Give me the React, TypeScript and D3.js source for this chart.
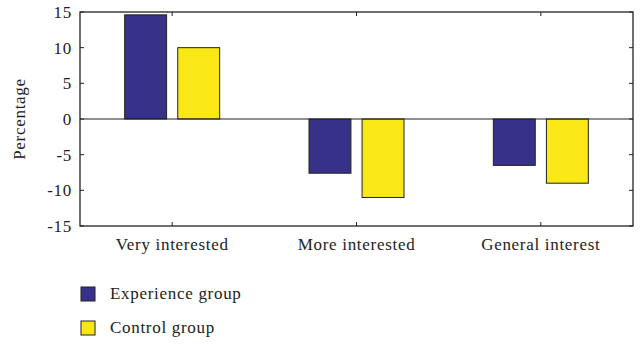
import React from "react";
import * as d3 from "d3";

const categories = ["Very interested", "More interested", "General interest"];
const seriesNames = ["Experience group", "Control group"];
const experienceValues = [14.6, -7.6, -6.5];
const controlValues = [10, -11, -9];
const yTicks = [15, 10, 5, 0, -5, -10, -15];
const colors = ["#38318a", "#f9e816"];

const W = 640;
const H = 345;
const left = 80;
const right = 633;
const top = 12;
const bottom = 226;
const font = "'Liberation Serif', 'DejaVu Serif', serif";
const fs = 17;
const ls = 0.7;

export default function App() {
  const x = d3.scaleBand<string>().domain(categories).range([left, right]).padding(0);
  const y = d3.scaleLinear().domain([-15, 15]).range([bottom, top]);
  const inner = d3
    .scaleBand<string>()
    .domain(seriesNames)
    .range([-47.5, 47.5])
    .paddingInner(0.21)
    .paddingOuter(0);
  const series = [experienceValues, controlValues];
  const tickLen = 4;

  return (
    <svg width={W} height={H} style={{ position: "absolute", left: 0, top: 0, background: "#fff" }}>
      {/* bars */}
      {series.map((vals, si) =>
        vals.map((v, ci) => {
          const cx = (x(categories[ci]) ?? 0) + x.bandwidth() / 2;
          const bx = cx + (inner(seriesNames[si]) ?? 0);
          const y0 = y(0);
          const y1 = y(v);
          return (
            <rect
              key={`${si}-${ci}`}
              x={bx}
              y={Math.min(y0, y1)}
              width={inner.bandwidth()}
              height={Math.abs(y1 - y0)}
              fill={colors[si]}
              stroke="#222"
              strokeWidth={1}
            />
          );
        })
      )}
      {/* zero line */}
      <line x1={left} x2={right} y1={y(0)} y2={y(0)} stroke="#222" strokeWidth={1.2} />
      {/* frame */}
      <rect x={left} y={top} width={right - left} height={bottom - top} fill="none" stroke="#222" strokeWidth={1.3} />
      {/* y ticks, both sides */}
      {yTicks.map((t) => (
        <g key={t}>
          <line x1={left} x2={left + tickLen} y1={y(t)} y2={y(t)} stroke="#222" />
          <line x1={right} x2={right - tickLen} y1={y(t)} y2={y(t)} stroke="#222" />
          <text
            x={left - 8}
            y={y(t)}
            dy="0.35em"
            textAnchor="end"
            fontFamily={font}
            fontSize={fs}
            letterSpacing={ls}
            fill="#222"
          >
            {t}
          </text>
        </g>
      ))}
      {/* x ticks, both sides */}
      {categories.map((c) => {
        const cx = (x(c) ?? 0) + x.bandwidth() / 2;
        return (
          <g key={c}>
            <line x1={cx} x2={cx} y1={bottom} y2={bottom - tickLen} stroke="#222" />
            <line x1={cx} x2={cx} y1={top} y2={top + tickLen} stroke="#222" />
            <text
              x={cx}
              y={bottom + 24}
              textAnchor="middle"
              fontFamily={font}
              fontSize={fs}
              letterSpacing={ls}
              fill="#222"
            >
              {c}
            </text>
          </g>
        );
      })}
      {/* y axis title */}
      <text
        transform={`translate(25,${(top + bottom) / 2}) rotate(-90)`}
        textAnchor="middle"
        fontFamily={font}
        fontSize={fs}
        letterSpacing={ls}
        fill="#222"
      >
        Percentage
      </text>
      {/* legend */}
      {seriesNames.map((n, i) => (
        <g key={n} transform={`translate(81,${287 + i * 34})`}>
          <rect x={0} y={0} width={14} height={14} fill={colors[i]} stroke="#222" strokeWidth={1} />
          <text x={29} y={12} fontFamily={font} fontSize={fs} letterSpacing={ls} fill="#222">
            {n}
          </text>
        </g>
      ))}
    </svg>
  );
}
